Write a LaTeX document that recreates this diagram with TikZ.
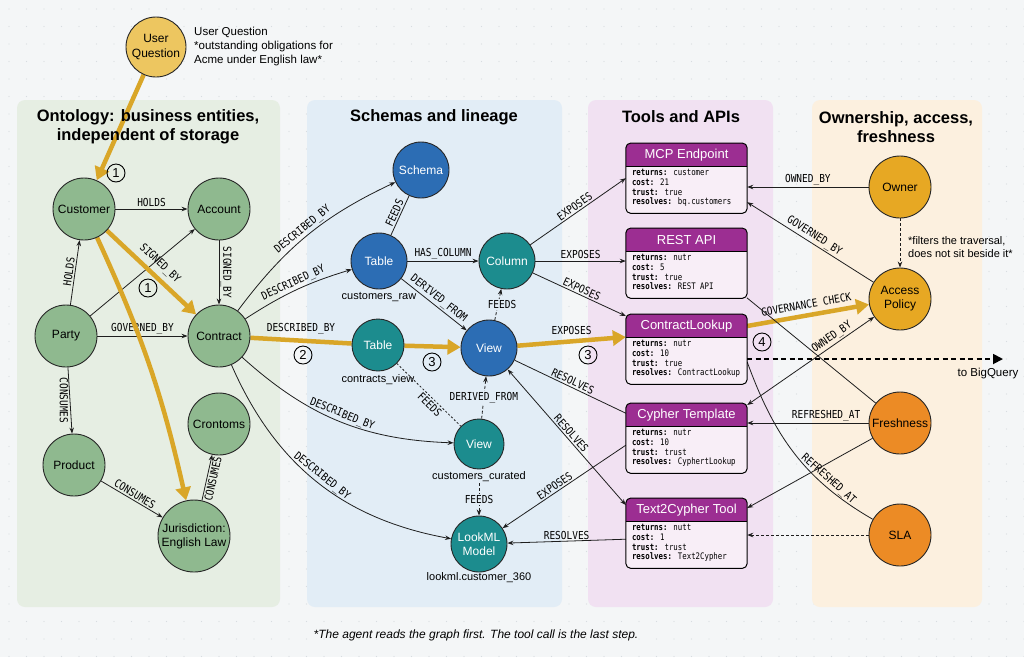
\documentclass[tikz,border=0pt]{standalone}
\usepackage{fontspec}
\setmainfont{Liberation Sans}
\setmonofont{DejaVu Sans Mono}
\newfontfamily\lblfont[FakeStretch=0.86]{DejaVu Sans Mono}
\newfontfamily\bodyfont[FakeStretch=0.82]{DejaVu Sans Mono}
\usetikzlibrary{arrows.meta,calc}
\pgfdeclarelayer{bgl}
\pgfdeclarelayer{edl}
\pgfsetlayers{bgl,edl,main}
\definecolor{pagebg}{HTML}{F4F6F7}
\definecolor{dotc}{HTML}{D8DDE0}
\definecolor{ontobg}{HTML}{E6EEE3}
\definecolor{schbg}{HTML}{E2EDF6}
\definecolor{toolbg}{HTML}{F1E1F2}
\definecolor{ownbg}{HTML}{FCF0DF}
\definecolor{greenn}{HTML}{8FB98F}
\definecolor{bluen}{HTML}{2C6DB4}
\definecolor{tealn}{HTML}{1C8C8E}
\definecolor{goldn}{HTML}{E7A823}
\definecolor{orangen}{HTML}{EC8B25}
\definecolor{yellown}{HTML}{EDC660}
\definecolor{pathc}{HTML}{D9A628}
\definecolor{purp}{HTML}{9C2E92}
\definecolor{boxbody}{HTML}{F8EEF7}
\definecolor{edgec}{HTML}{1E1E1E}
\tikzset{
  cnode/.style={circle, draw=black!85, line width=0.9pt, inner sep=0pt, align=center, font=\fontsize{12}{14}\selectfont},
  gnode/.style={cnode, fill=greenn, minimum size=62pt},
  bnode/.style={cnode, fill=bluen, text=white, minimum size=56pt},
  tnode/.style={cnode, fill=tealn, text=white, minimum size=56pt},
  onode/.style={cnode, fill=goldn, minimum size=62pt},
  fnode/.style={cnode, fill=orangen, minimum size=62pt},
  ynode/.style={cnode, fill=yellown, minimum size=60pt},
  nlabel/.style={font=\fontsize{11}{13}\selectfont, inner sep=1pt},
  lb/.style={font=\lblfont\fontsize{11}{11}\selectfont, inner sep=1.5pt, text=black},
  ln/.style={draw=edgec, line width=0.8pt},
  ar/.style={ln, -{Stealth[length=6pt,width=4.5pt]}},
  dbl/.style={ln, {Stealth[length=6pt,width=4.5pt]}-{Stealth[length=6pt,width=4.5pt]}},
  dar/.style={ar, dash pattern=on 3pt off 2pt},
  dln/.style={ln, dash pattern=on 2pt off 2pt},
  hotln/.style={draw=pathc, line width=4.5pt},
  hot/.style={hotln, -{Triangle[length=13pt,width=15pt]}},
  num/.style={circle, draw=black, line width=0.9pt, inner sep=0pt, minimum size=18pt, font=\fontsize{13}{13}\selectfont},
  ptitle/.style={font=\bfseries\fontsize{16.5}{19}\selectfont, align=center},
  tbox/.style={rectangle, fill=boxbody, minimum width=121pt, minimum height=70pt, inner sep=0pt},
}
\newcommand\mytool[5]{%
  \node[tbox, anchor=north] (#1) at (#2,#3) {};
  \begin{scope}
    \clip[rounded corners=5pt] (#1.north west) rectangle (#1.south east);
    \fill[purp] (#1.north west) rectangle ([yshift=-23pt]#1.north east);
  \end{scope}
  \draw[line width=1pt, rounded corners=5pt] (#1.north west) rectangle (#1.south east);
  \draw[line width=0.8pt] ([yshift=-23pt]#1.north west) -- ([yshift=-23pt]#1.north east);
  \node[text=white, font=\fontsize{13}{14}\selectfont] (#1-t) at ([yshift=-12pt]#1.north) {#4};
  \node[anchor=north west, align=left, inner sep=0pt, font=\bodyfont\fontsize{9}{9.8}\selectfont] (#1-b) at ([xshift=6pt,yshift=-26pt]#1.north west) {#5};
}
\begin{document}
\begin{tikzpicture}[x=1pt,y=-1pt]
\useasboundingbox (0,0) rectangle (1024,657);
\begin{pgfonlayer}{bgl}
  \fill[pagebg] (0,0) rectangle (1024,657);
  \foreach \x in {9,26.5,...,1024} {
    \foreach \y in {9,26.5,...,657} {
      \fill[dotc] (\x,\y) circle (0.6pt);
    }
  }
  \fill[ontobg, rounded corners=8pt] (17,100) rectangle (280,607);
  \fill[schbg, rounded corners=8pt] (307,100) rectangle (562,607);
  \fill[toolbg, rounded corners=8pt] (588,100) rectangle (773,607);
  \fill[ownbg, rounded corners=8pt] (812,100) rectangle (982,607);
\end{pgfonlayer}

% titles
\node[ptitle] (t1) at (148,126.5) {Ontology: business entities,\\independent of storage};
\node[ptitle] (t2) at (434,117) {Schemas and lineage};
\node[ptitle] (t3) at (681,117) {Tools and APIs};
\node[ptitle] (t4) at (896,127) {Ownership, access,\\freshness};

% user question
\node[ynode] (uq) at (156,47) {User\\Question};
\node[anchor=north west, align=left, font=\fontsize{11.5}{14}\selectfont, inner sep=0pt] (uqnote) at (194,27) {User Question\\*outstanding obligations for\\Acme under English law*};

% ontology
\node[gnode] (cust) at (84,209) {Customer};
\node[gnode] (acct) at (219,209) {Account};
\node[gnode] (party) at (66,336) {Party};
\node[gnode] (contr) at (219,336) {Contract};
\node[gnode] (prod) at (74,465) {Product};
\node[gnode] (cront) at (219,424) {Crontoms};
\node[gnode, minimum size=72pt] (jur) at (194,536) {Jurisdiction:\\English Law};

% schemas
\node[bnode] (schema) at (421,170) {Schema};
\node[bnode] (traw) at (379,261) {Table};
\node[nlabel] (trawcap) at (379,297) {customers\_raw};
\node[tnode] (col) at (507,261) {Column};
\node[bnode] (view) at (489,348) {View};
\node[tnode, minimum size=52pt] (tcv) at (378,345) {Table};
\node[nlabel] (tcvcap) at (378,380) {contracts\_view};
\node[tnode, minimum size=50pt] (vcur) at (479,444) {View};
\node[nlabel] (vcurcap) at (479,477) {customers\_curated};
\node[tnode] (lkml) at (479,544) {LookML\\Model};
\node[nlabel] (lkmlcap) at (479,578) {lookml.customer\_360};

% tools
\mytool{mcp}{686.5}{143}{MCP Endpoint}{\textbf{returns:} customer\\\textbf{cost:} 21\\\textbf{trust:} true\\\textbf{resolves:} bq.customers}
\mytool{rest}{686.5}{228}{REST API}{\textbf{returns:} nutr\\\textbf{cost:} 5\\\textbf{trust:} true\\\textbf{resolves:} REST API}
\mytool{cl}{686.5}{314}{ContractLookup}{\textbf{returns:} nutr\\\textbf{cost:} 10\\\textbf{trust:} true\\\textbf{resolves:} ContractLookup}
\mytool{cyp}{686.5}{403}{Cypher Template}{\textbf{returns:} nutr\\\textbf{cost:} 10\\\textbf{trust:} trust\\\textbf{resolves:} CyphertLookup}
\mytool{t2c}{686.5}{498}{Text2Cypher Tool}{\textbf{returns:} nutt\\\textbf{cost:} 1\\\textbf{trust:} trust\\\textbf{resolves:} Text2Cypher}

% ownership
\node[onode] (owner) at (900,187) {Owner};
\node[onode] (acc) at (900,299) {Access\\Policy};
\node[fnode] (fresh) at (900,423) {Freshness};
\node[fnode] (sla) at (900,535) {SLA};
\node[anchor=west, align=left, font=\fontsize{11}{13.5}\selectfont, inner sep=0pt] (filt) at (908,247) {*filters the traversal,\\does not sit beside it*};
\coordinate (bq) at (1003,359);
\node[font=\fontsize{11.5}{13}\selectfont] (bqlab) at (988,374) {to BigQuery};

% step numbers
\node[num] (n1a) at (116,173) {1};
\node[num] (n1b) at (148,288) {1};
\node[num] (n2) at (303,355) {2};
\node[num] (n3a) at (432,362) {3};
\node[num] (n3b) at (588,355) {3};
\node[num] (n4) at (762,342) {4};

% footer
\node[font=\itshape\fontsize{12}{14}\selectfont] (foot) at (476,635) {*The agent reads the graph first. The tool call is the last step.};

\begin{pgfonlayer}{edl}
  % ontology
  \draw[ar] (cust) -- node[lb, above] {HOLDS} (acct);
  \draw[ar] (party) -- node[lb, sloped, above] {HOLDS} (cust);
  \draw[ar] (party) -- (acct);
  \draw[ar] (acct) -- node[lb, midway, rotate=-90, anchor=south] {SIGNED\_BY} (contr);
  \draw[ar] (party) -- node[lb, above] {GOVERNED\_BY} (contr);
  \draw[ar] (party) -- node[lb, midway, rotate=-90, anchor=north] {CONSUMES} (prod);
  \draw[ar] (prod) -- node[lb, sloped, above] {CONSUMES} (jur);
  \draw[ar] (jur) -- node[lb, sloped, below] {CONSUMES} (cront);
  \draw[hot] (uq) -- (cust);
  \draw[hot] (cust) -- node[lb, sloped, above=3pt] {SIGNED\_BY} (contr);
  \draw[hot] (cust) to[bend left=6] (jur);
  % schemas
  \draw[ar] (contr) to[bend left=14] node[lb, sloped, above] {DESCRIBED\_BY} (schema);
  \draw[ar] (contr) to[bend left=8] node[lb, sloped, above] {DESCRIBED\_BY} (traw);
  \draw[hotln] (contr) -- node[lb, above=3pt] {DESCRIBED\_BY} (tcv);
  \draw[hot] (tcv) -- (view);
  \draw[ar] (contr) to[bend right=20] node[lb, sloped, above] {DESCRIBED\_BY} (vcur);
  \draw[ar] (contr) to[bend right=28] node[lb, sloped, above] {DESCRIBED\_BY} (lkml);
  \draw[ln] (traw) -- node[lb, sloped, above] {FEEDS} (schema);
  \draw[ar] (traw) -- node[lb, above] {HAS\_COLUMN} (col);
  \draw[ar] (traw) -- node[lb, sloped, above] {DERIVED\_FROM} (view);
  \draw[dar] (view) -- node[lb, fill=schbg, xshift=4pt] {FEEDS} (col);
  \draw[dln] (tcv) -- node[lb, sloped, below, pos=0.58] {FEEDS} (vcur);
  \draw[dar] (vcur) -- node[lb, fill=schbg] {DERIVED\_FROM} (view);
  \draw[dar] (vcurcap) -- node[lb, fill=schbg] {FEEDS} (lkml);
  % tools
  \draw[ar] (col) -- node[lb, sloped, above] {EXPOSES} (mcp.west);
  \draw[ar] (col) -- node[lb, above] {EXPOSES} (col -| rest.west);
  \draw[ar] (col) -- node[lb, sloped, above] {EXPOSES} ([yshift=-2pt]cl.north west);
  \draw[hot] (view) -- node[lb, above=3pt] {EXPOSES} ([yshift=-23pt]cl.north west);
  \draw[ln] (view) -- node[lb, sloped, above] {RESOLVES} ([yshift=25pt]cyp.west);
  \draw[dbl] (view) -- node[lb, sloped, above] {RESOLVES} ([yshift=-7pt]t2c.north west);
  \draw[ar] ([yshift=-7pt]cyp.west) -- node[lb, sloped, above, pos=0.55] {EXPOSES} (lkml);
  \draw[ar] ([yshift=-6pt]t2c.west) -- node[lb, above] {RESOLVES} (lkml);
  % ownership
  \draw[ar] (owner) -- node[lb, above] {OWNED\_BY} (owner -| mcp.east);
  \draw[ar] (acc) -- node[lb, sloped, above] {GOVERNED\_BY} ([yshift=-24pt]mcp.east);
  \draw[dar] (owner) -- (acc);
  \draw[hot] ([yshift=-12pt]cl.north east) -- node[lb, sloped, above=3pt] {GOVERNANCE CHECK} (acc);
  \draw[dbl] ([yshift=-2pt]cyp.north east) -- node[lb, sloped, above, pos=0.7] {OWNED\_BY} (acc);
  \draw[ln] ([xshift=-2pt,yshift=2pt]rest.south east) -- (fresh);
  \draw[ar] (fresh) -- node[lb, above, pos=0.35] {REFRESHED\_AT} (fresh -| cyp.east);
  \draw[ar] (fresh) -- ([yshift=-10pt]t2c.north east);
  \draw[ln] ([yshift=-48pt]cl.north east) to[out=-70, in=150] node[lb, sloped, above, pos=0.72] {REFRESHED\_AT} (sla);
  \draw[dar] (sla) -- (sla -| t2c.east);
  \draw[draw=black, line width=1.8pt, dash pattern=on 5pt off 3.5pt, -{Triangle[length=10pt,width=10pt]}] ([yshift=-45pt]cl.north east) -- (bq);
\end{pgfonlayer}
\end{tikzpicture}
\end{document}
